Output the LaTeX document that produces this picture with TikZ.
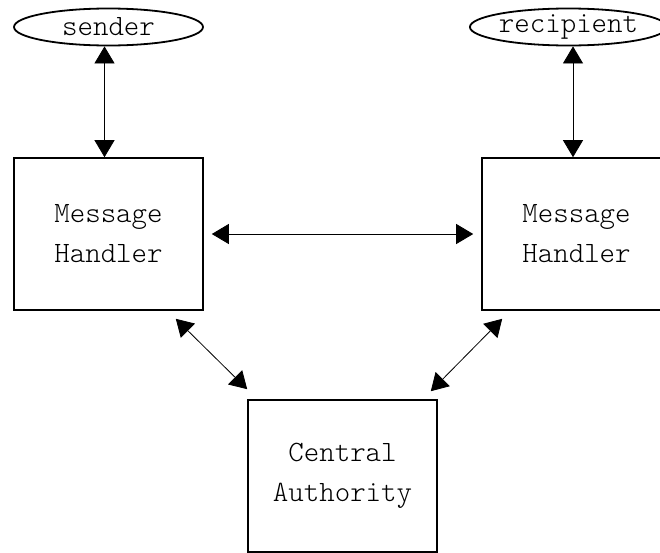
\documentclass[tikz,border=0pt]{standalone}
\usepackage{fontspec}
\setmonofont{Latin Modern Mono Light}
\usetikzlibrary{arrows.meta,shapes.geometric}
\tikzset{
  party/.style={draw, line width=1.8pt, ellipse, minimum width=189pt, minimum height=37pt, inner sep=0pt},
  unit/.style={draw, line width=1.6pt, rectangle, minimum width=189pt, minimum height=152pt, align=center},
  link/.style={line width=0.8pt, {Triangle[length=17pt,width=20pt]}-{Triangle[length=17pt,width=20pt]}}
}
\begin{document}
\begin{tikzpicture}[x=1pt, y=-1pt, font=\ttfamily\fontsize{29.5}{40}\selectfont]
   \def\gap{8pt}
   \useasboundingbox (0,0) rectangle (660,552);
   \node[party] (sender) at (108.5,27) {sender};
   \node[party, minimum width=173pt] (recip) at (568.5,27) {recipient};
   \node[unit] (lmh) at (108.5,234) {Message\\Handler};   % left handler
   \node[unit] (rmh) at (576.5,234) {Message\\Handler};   % right handler
   \node[unit] (ca) at (342.5,476) {Central\\Authority};
   \draw[link] ([xshift=-4pt]sender.south) -- ([xshift=-4pt]lmh.north);
   \draw[link] ([xshift=4.5pt]recip.south) -- ([xshift=-3.5pt]rmh.north);
   \draw[link, shorten <=\gap, shorten >=\gap] (lmh.east) -- (rmh.west);
   \draw[link] ([xshift=-28pt,yshift=-\gap]lmh.south east) -- ([yshift=10pt]ca.north west);
   \draw[link] ([xshift=21pt,yshift=-\gap]rmh.south west) -- ([xshift=-7pt,yshift=\gap]ca.north east);
\end{tikzpicture}
\end{document}
